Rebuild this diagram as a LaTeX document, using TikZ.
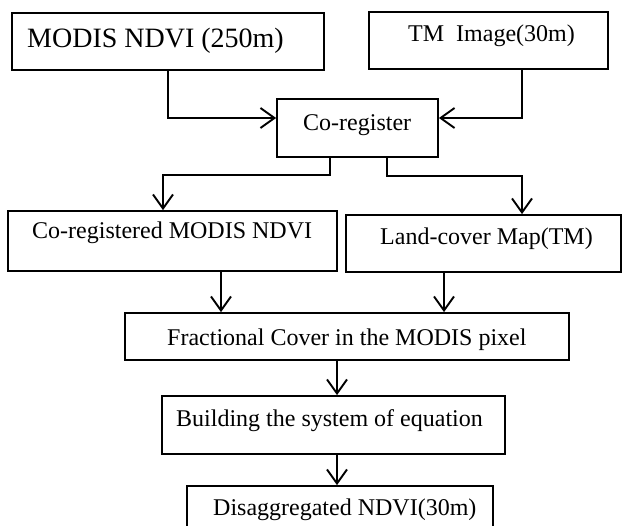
\documentclass[tikz,border=0pt]{standalone}
\usepackage{fontspec}
\setmainfont{Liberation Serif}
\usetikzlibrary{arrows.meta}
\begin{document}
\begin{tikzpicture}[x=1pt,y=-1pt,
  box/.style={draw=black,line width=1.8pt,rectangle,inner sep=0pt},
  txt/.style={inner sep=0pt,anchor=base west,font=\fontsize{24}{28}\selectfont},
  bigtxt/.style={inner sep=0pt,anchor=base west,font=\fontsize{28}{32}\selectfont},
  arr/.style={line width=1.9pt,-{Straight Barb[length=14pt,width=20pt,line width=1.9pt]}}]
\useasboundingbox (0,0) rectangle (623,525);
% boxes
\node[box,minimum width=312pt,minimum height=57pt] (b1) at (168,41.5) {};
\node[box,minimum width=239pt,minimum height=57pt] (tm) at (488.5,40.5) {};
\node[box,minimum width=161pt,minimum height=58pt] (co) at (357.5,128) {};
\node[box,minimum width=329pt,minimum height=60pt] (b3) at (172.5,241) {};
\node[box,minimum width=275pt,minimum height=57pt] (b4) at (483.5,243.5) {};
\node[box,minimum width=444pt,minimum height=47pt] (b5) at (347,336.5) {};
\node[box,minimum width=343pt,minimum height=58pt] (b6) at (333.5,425) {};
\node[box,minimum width=306pt,minimum height=44pt] (b7) at (340,508) {};
% texts
\node[bigtxt] (t1) at (27,47) {MODIS NDVI (250m)};
\node[txt] (t2) at (408,41) {TM~ Image(30m)};
\node[txt] (t3) at (303,130) {Co-register};
\node[txt] (t4) at (32,238) {Co-registered MODIS NDVI};
\node[txt] (t5) at (380,244) {Land-cover Map(TM)};
\node[txt] (t6) at (167,345) {Fractional Cover in the MODIS pixel};
\node[txt] (t7) at (176,426) {Building the system of equation};
\node[txt] (t8) at (213,515) {Disaggregated NDVI(30m)};
% connectors
\draw[arr] (b1.south) |- ([yshift=10pt]co.west);
\draw[arr] ([xshift=33.5pt]tm.south) |- ([yshift=10pt]co.east);
\draw[arr] ([xshift=-27.5pt]co.south) -- ++(0,17) -| ([xshift=-9.5pt]b3.north);
\draw[arr] ([xshift=29.5pt]co.south) -- ++(0,18) -| ([xshift=38.5pt]b4.north);
\draw[arr] ([xshift=48.5pt]b3.south) -- ([xshift=-126pt]b5.north);
\draw[arr] ([xshift=-39.5pt]b4.south) -- ([xshift=97pt]b5.north);
\draw[arr] ([xshift=-10pt]b5.south) -- ([xshift=3.5pt]b6.north);
\draw[arr] ([xshift=3.5pt]b6.south) -- ([xshift=-3pt]b7.north);
\end{tikzpicture}
\end{document}
